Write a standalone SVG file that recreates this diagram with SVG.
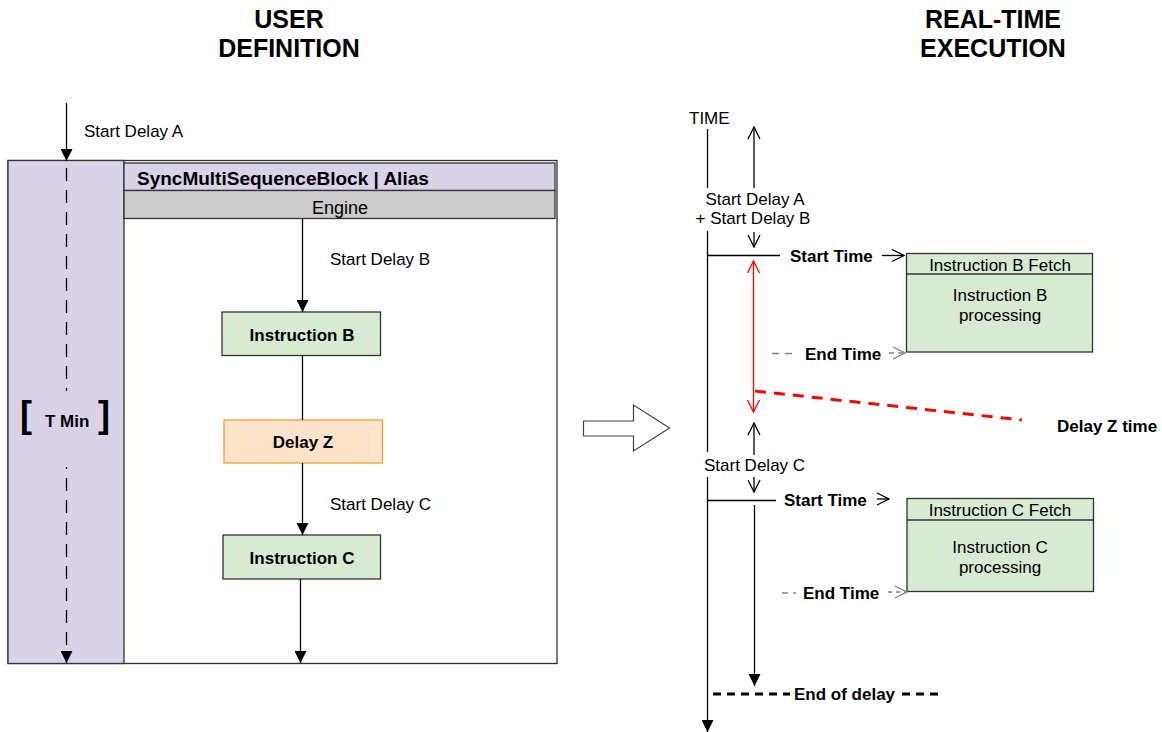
<svg xmlns="http://www.w3.org/2000/svg" width="1162" height="732" viewBox="0 0 1162 732">
<style>
text{font-family:"Liberation Sans",Arial,sans-serif;fill:#000}
.t{font-size:17px}
.b{font-size:17px;font-weight:bold}
.h{font-size:25px;font-weight:bold}
.m{text-anchor:middle}
.ln{stroke:#000;stroke-width:1.3;fill:none}
.box{stroke:#333;stroke-width:1.3}
</style>
<defs>
<marker id="fa" viewBox="0 0 12 12" refX="12" refY="6" markerWidth="12" markerHeight="12" markerUnits="userSpaceOnUse" orient="auto"><path d="M0,0 L12,6 L0,12 z" fill="#000"/></marker>
<marker id="oa" viewBox="0 0 14 14" refX="13" refY="7" markerWidth="14" markerHeight="14" markerUnits="userSpaceOnUse" orient="auto"><path d="M1,1 L13,7 L1,13" fill="none" stroke="#000" stroke-width="1.3"/></marker>
<marker id="ra" viewBox="0 0 14 14" refX="13" refY="7" markerWidth="14" markerHeight="14" markerUnits="userSpaceOnUse" orient="auto"><path d="M1,1 L13,7 L1,13" fill="none" stroke="#f00" stroke-width="1.3"/></marker>
<marker id="ra2" viewBox="0 0 14 14" refX="1" refY="7" markerWidth="14" markerHeight="14" markerUnits="userSpaceOnUse" orient="auto"><path d="M13,1 L1,7 L13,13" fill="none" stroke="#f00" stroke-width="1.3"/></marker>
<marker id="ga" viewBox="0 0 14 14" refX="13" refY="7" markerWidth="14" markerHeight="14" markerUnits="userSpaceOnUse" orient="auto"><path d="M1,1 L13,7 L1,13" fill="none" stroke="#808080" stroke-width="1.3"/></marker>
</defs>
<rect width="1162" height="732" fill="#fff"/>

<g id="titles">
<text class="h m" x="289" y="28">USER</text>
<text class="h m" x="289" y="57">DEFINITION</text>
<text class="h m" x="993" y="28">REAL-TIME</text>
<text class="h m" x="993" y="57">EXECUTION</text>
</g>

<g id="frame">
<rect x="8" y="160.5" width="549" height="503" fill="#fff" class="box"/>
<rect x="8" y="160.5" width="116" height="503" fill="#d9d3e8" class="box"/>
</g>
<g id="header">
<rect x="124" y="163" width="431" height="27.5" fill="#d9d3e8" class="box"/>
<text x="137" y="185" style="font-size:19px;font-weight:bold">SyncMultiSequenceBlock | Alias</text>
</g>
<g id="engine">
<rect x="124" y="190.5" width="431" height="28" fill="#cccccc" class="box"/>
<text class="m" x="340" y="214" style="font-size:18px">Engine</text>
</g>
<g id="tmin">
<text x="20" y="427" style="font-size:36px;font-weight:bold">[</text>
<text class="b" x="45" y="427">T Min</text>
<text x="98" y="427" style="font-size:36px;font-weight:bold">]</text>
</g>
<g id="instrB">
<rect x="222" y="312" width="158.5" height="43.5" fill="#d9ead3" class="box"/>
<text class="b m" x="302" y="341">Instruction B</text>
</g>
<g id="delayZ">
<rect x="224" y="420" width="158.5" height="43" fill="#fde4cb" stroke="#e8a33a" stroke-width="1.3"/>
<text class="b m" x="303" y="448">Delay Z</text>
</g>
<g id="instrC">
<rect x="223" y="535" width="157.5" height="44" fill="#d9ead3" class="box"/>
<text class="b m" x="302" y="564">Instruction C</text>
</g>

<g id="blockArrow">
<path d="M583.5,421 L633.5,421 L633.5,405 L669.5,428 L633.5,451 L633.5,436 L583.5,436 Z" fill="#fff" stroke="#444" stroke-width="1.2"/>
</g>

<g id="instrBrt">
<rect x="906.5" y="253.5" width="186" height="98.5" fill="#d9ead3" class="box"/>
<line x1="906.5" y1="274" x2="1092.5" y2="274" class="box"/>
<text class="t m" x="1000" y="271">Instruction B Fetch</text>
<text class="t m" x="1000" y="301">Instruction B</text>
<text class="t m" x="1000" y="321">processing</text>
</g>
<g id="instrCrt">
<rect x="907" y="498.5" width="186.5" height="93" fill="#d9ead3" class="box"/>
<line x1="907" y1="520" x2="1093.5" y2="520" class="box"/>
<text class="t m" x="1000" y="516">Instruction C Fetch</text>
<text class="t m" x="1000" y="553">Instruction C</text>
<text class="t m" x="1000" y="573">processing</text>
</g>

<g id="connectors">
<!-- left -->
<line x1="66.5" y1="103" x2="66.5" y2="161" class="ln" marker-end="url(#fa)"/>
<line x1="66.5" y1="168" x2="66.5" y2="391" class="ln" stroke-dasharray="13 9"/>
<line x1="66.5" y1="467" x2="66.5" y2="469" class="ln"/>
<line x1="66.5" y1="478" x2="66.5" y2="663" class="ln" stroke-dasharray="13 9" marker-end="url(#fa)"/>
<line x1="302.5" y1="218.5" x2="302.5" y2="312" class="ln" marker-end="url(#fa)"/>
<line x1="302.5" y1="355.5" x2="302.5" y2="420" class="ln"/>
<line x1="302.5" y1="463" x2="302.5" y2="535" class="ln" marker-end="url(#fa)"/>
<line x1="300.5" y1="579" x2="300.5" y2="663" class="ln" marker-end="url(#fa)"/>
<!-- right: time axis -->
<line x1="707.5" y1="129" x2="707.5" y2="188" class="ln"/>
<line x1="707.5" y1="231" x2="707.5" y2="452" class="ln"/>
<line x1="707.5" y1="477" x2="707.5" y2="732" class="ln" marker-end="url(#fa)"/>
<line x1="754" y1="188" x2="754" y2="127" class="ln" marker-end="url(#oa)"/>
<line x1="754" y1="232" x2="754" y2="247" class="ln" marker-end="url(#oa)"/>
<line x1="707" y1="255.5" x2="780" y2="255.5" class="ln"/>
<line x1="882" y1="255.5" x2="904" y2="255.5" class="ln" marker-end="url(#oa)"/>
<line x1="753.5" y1="261" x2="753.5" y2="412" stroke="#f00" stroke-width="1.3" marker-start="url(#ra2)" marker-end="url(#ra)"/>
<line x1="755" y1="391" x2="1022" y2="420" stroke="#f00" stroke-width="3" stroke-dasharray="11 8"/>
<line x1="772" y1="353.5" x2="797" y2="353.5" stroke="#808080" stroke-width="1.3" stroke-dasharray="7 6"/>
<line x1="889" y1="353" x2="905" y2="353" stroke="#808080" stroke-width="1.3" stroke-dasharray="5 4" marker-end="url(#ga)"/>
<line x1="754" y1="455" x2="754" y2="423" class="ln" marker-end="url(#oa)"/>
<line x1="754" y1="477" x2="754" y2="492" class="ln" marker-end="url(#oa)"/>
<line x1="707" y1="500.5" x2="776" y2="500.5" class="ln"/>
<line x1="877" y1="499" x2="889" y2="499" class="ln" marker-end="url(#oa)"/>
<line x1="754.5" y1="505" x2="754.5" y2="686" class="ln" marker-end="url(#fa)"/>
<line x1="782" y1="593" x2="796" y2="593" stroke="#808080" stroke-width="1.3" stroke-dasharray="6 5"/>
<line x1="888" y1="592" x2="907" y2="592" stroke="#808080" stroke-width="1.3" stroke-dasharray="4 4" marker-end="url(#ga)"/>
<line x1="713" y1="694" x2="790" y2="694" stroke="#000" stroke-width="3" stroke-dasharray="8 6"/>
<line x1="902" y1="694" x2="943" y2="694" stroke="#000" stroke-width="3" stroke-dasharray="8 6"/>
</g>

<g id="labels">
<text class="t" x="84" y="137">Start Delay A</text>
<text class="t" x="330" y="265">Start Delay B</text>
<text class="t" x="330" y="510">Start Delay C</text>
<text class="t" x="689" y="124">TIME</text>
<text class="t m" x="755" y="205">Start Delay A</text>
<text class="t m" x="753" y="224">+ Start Delay B</text>
<text class="b" x="790" y="262">Start Time</text>
<text class="b" x="805" y="360">End Time</text>
<text class="b" x="1057" y="432">Delay Z time</text>
<text class="t" x="704" y="471">Start Delay C</text>
<text class="b" x="784" y="506">Start Time</text>
<text class="b" x="803" y="599">End Time</text>
<text class="b" x="794" y="700">End of delay</text>
</g>
</svg>
